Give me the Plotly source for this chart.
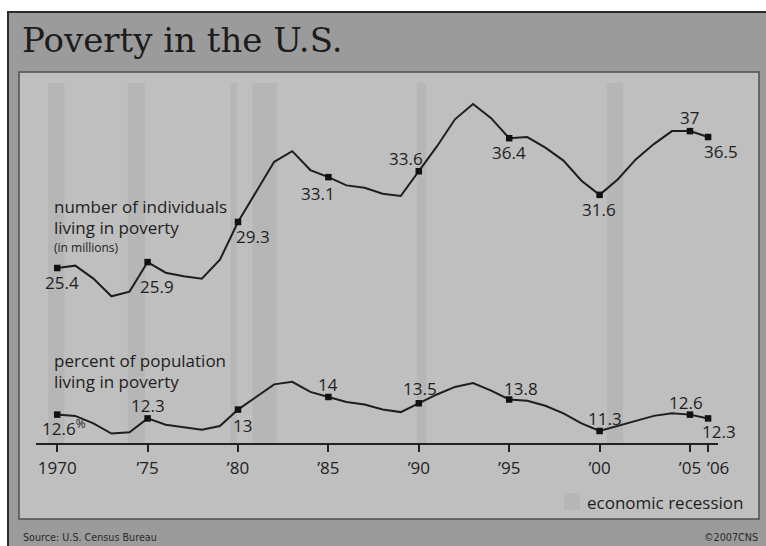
import plotly.graph_objects as go

# ---------------- data ----------------
years = list(range(1970, 2007))
poor_millions = [25.4, 25.6, 24.5, 23.0, 23.4, 25.9, 25.0, 24.7, 24.5, 26.1,
                 29.3, 31.8, 34.4, 35.3, 33.7, 33.1, 32.4, 32.2, 31.7, 31.5,
                 33.6, 35.7, 38.0, 39.3, 38.1, 36.4, 36.5, 35.6, 34.5, 32.8,
                 31.6, 32.9, 34.6, 35.9, 37.0, 37.0, 36.5]
poverty_rate = [12.6, 12.5, 11.9, 11.1, 11.2, 12.3, 11.8, 11.6, 11.4, 11.7,
                13.0, 14.0, 15.0, 15.2, 14.4, 14.0, 13.6, 13.4, 13.0, 12.8,
                13.5, 14.2, 14.8, 15.1, 14.5, 13.8, 13.7, 13.3, 12.7, 11.9,
                11.3, 11.7, 12.1, 12.5, 12.7, 12.6, 12.3]
labeled_years = [1970, 1975, 1980, 1985, 1990, 1995, 2000, 2005, 2006]
tick_years = [1970, 1975, 1980, 1985, 1990, 1995, 2000, 2005, 2006]
tick_labels = ["1970", "\u201975", "\u201980", "\u201985", "\u201990",
               "\u201995", "\u201900", "\u201905", "\u201906"]
recession_start = [1969.5, 1973.9, 1979.6, 1980.8, 1989.9, 2000.4]
recession_end = [1970.4, 1974.85, 1979.95, 1982.15, 1990.4, 2001.3]

# ---------------- layout helpers ----------------
W, H = 766, 546


def px(x):
    return x / W


def py(y):
    return 1 - y / H


INK = "#1e1e1e"
PANEL = "#bfbfbf"
OUTER = "#9b9b9b"
BAND = "#b6b6b6"
SANS = "Open Sans, Noto Sans, sans-serif"
NARROW = "DejaVu Sans Condensed, Liberation Sans Narrow, sans-serif"
FS = 17

# label offsets (pixels, right / up) relative to each labelled point
num_offsets = [(5, -14), (9, -24), (15, -15), (-10, -16), (-13, 13),
               (0, -14), (-1, -15), (0, 14), (13, -14)]
pct_offsets = [(7, -13), (0, 13), (4, -16), (0, 12), (1, 15),
               (12, 11), (5, 13), (-4, 12), (11, -13)]

fig = go.Figure()

lab_num = [poor_millions[years.index(y)] for y in labeled_years]
lab_pct = [poverty_rate[years.index(y)] for y in labeled_years]

fig.add_trace(go.Scatter(x=years, y=poor_millions, mode="lines",
                         line=dict(color=INK, width=2), yaxis="y",
                         hoverinfo="skip", showlegend=False))
fig.add_trace(go.Scatter(x=labeled_years, y=lab_num, mode="markers",
                         marker=dict(symbol="square", size=6.5,
                                     color="#111111"),
                         yaxis="y", hoverinfo="skip", showlegend=False))
fig.add_trace(go.Scatter(x=years, y=poverty_rate, mode="lines",
                         line=dict(color=INK, width=2), yaxis="y2",
                         hoverinfo="skip", showlegend=False))
fig.add_trace(go.Scatter(x=labeled_years, y=lab_pct, mode="markers",
                         marker=dict(symbol="square", size=6.5,
                                     color="#111111"),
                         yaxis="y2", hoverinfo="skip", showlegend=False))

shapes = [
    dict(type="rect", xref="paper", yref="paper", x0=px(8), y0=py(12),
         x1=px(790), y1=py(570), fillcolor=OUTER,
         line=dict(color="#2b2b2b", width=2), layer="below"),
    dict(type="rect", xref="paper", yref="paper", x0=px(19), y0=py(72),
         x1=px(759), y1=py(519), fillcolor=PANEL,
         line=dict(color="#505050", width=1.5), layer="below"),
]
for s, e in zip(recession_start, recession_end):
    shapes.append(dict(type="rect", xref="x", yref="paper", x0=s, x1=e,
                       y0=py(443), y1=py(83), fillcolor=BAND,
                       line=dict(width=0), layer="below"))
shapes.append(dict(type="rect", xref="paper", yref="paper", x0=px(564),
                   y0=py(510), x1=px(580), y1=py(493), fillcolor=BAND,
                   line=dict(width=0), layer="below"))

ann = []
ann.append(dict(text="Poverty in the U.S.", xref="paper", yref="paper",
                x=px(20), y=py(40), xanchor="left", yanchor="middle",
                showarrow=False,
                font=dict(family="DejaVu Serif, serif", size=34,
                          color="#1c1c1c")))


def side_text(t, x, y, size=FS):
    ann.append(dict(text=t, xref="paper", yref="paper", x=px(x), y=py(y),
                    xanchor="left", yanchor="middle", showarrow=False,
                    font=dict(family=SANS, size=size, color=INK)))


side_text("number of individuals", 52, 206)
side_text("living in poverty", 52, 227.5)
side_text("(in millions)", 52, 247.5, 12)
side_text("percent of population", 52, 360)
side_text("living in poverty", 52, 381)
side_text("economic recession", 585, 502)

ann.append(dict(text="Source: U.S. Census Bureau", xref="paper", yref="paper",
                x=px(21), y=py(537), xanchor="left", yanchor="middle",
                showarrow=False, font=dict(family=NARROW, size=10.7,
                                           color="#2a2a2a")))
ann.append(dict(text="\u00a92007CNS", xref="paper", yref="paper",
                x=px(760), y=py(537), xanchor="right", yanchor="middle",
                showarrow=False, font=dict(family=NARROW, size=10.7,
                                           color="#2a2a2a")))

# the last tick label sits a little right of its tick, as in the original
last_label = tick_labels[-1]
axis_labels = tick_labels[:-1] + [""]
ann.append(dict(text=last_label, x=tick_years[-1], xref="x", yref="paper",
                y=py(467), yanchor="middle", xshift=10, showarrow=False,
                font=dict(family=SANS, size=FS, color="#222222")))

for yr, v, (dx, dy) in zip(labeled_years, lab_num, num_offsets):
    ann.append(dict(text=f"{v:g}", x=yr, y=v, xref="x", yref="y",
                    xshift=dx, yshift=dy, showarrow=False,
                    font=dict(family=SANS, size=FS, color=INK)))
for i, (yr, v, (dx, dy)) in enumerate(zip(labeled_years, lab_pct,
                                          pct_offsets)):
    t = f"{v:g}" + ("<sup>%</sup>" if i == 0 else "")
    ann.append(dict(text=t, x=yr, y=v, xref="x", yref="y2",
                    xshift=dx, yshift=dy, showarrow=False,
                    font=dict(family=SANS, size=FS, color=INK)))

fig.update_layout(
    width=W, height=H, autosize=False,
    margin=dict(l=0, r=0, t=0, b=0, pad=0, autoexpand=False),
    paper_bgcolor="white",
    plot_bgcolor="rgba(0,0,0,0)",
    showlegend=False,
    shapes=shapes,
    annotations=ann,
    xaxis=dict(domain=[px(36), px(718)], range=[1968.827, 2006.549],
               anchor="free", position=py(443), automargin=False,
               showline=True, linecolor="#222222", linewidth=1.5,
               ticks="outside", ticklen=7, tickwidth=2, tickcolor="#222222",
               tickmode="array", tickvals=tick_years, ticktext=axis_labels,
               tickangle=0, ticklabelstandoff=2,
               tickfont=dict(family=SANS, size=FS, color="#222222"),
               showgrid=False, zeroline=False, fixedrange=True),
    yaxis=dict(domain=[0, 1], range=[1.841, 48.112], visible=False,
               automargin=False, fixedrange=True),
    yaxis2=dict(overlaying="y", range=[2.173, 45.506], visible=False,
                automargin=False, fixedrange=True),
)

fig.write_html(
    "out.html",
    config={"responsive": False, "displayModeBar": False,
            "staticPlot": True},
    post_script="document.body.style.margin='0';"
                "document.body.style.overflow='hidden';",
)
